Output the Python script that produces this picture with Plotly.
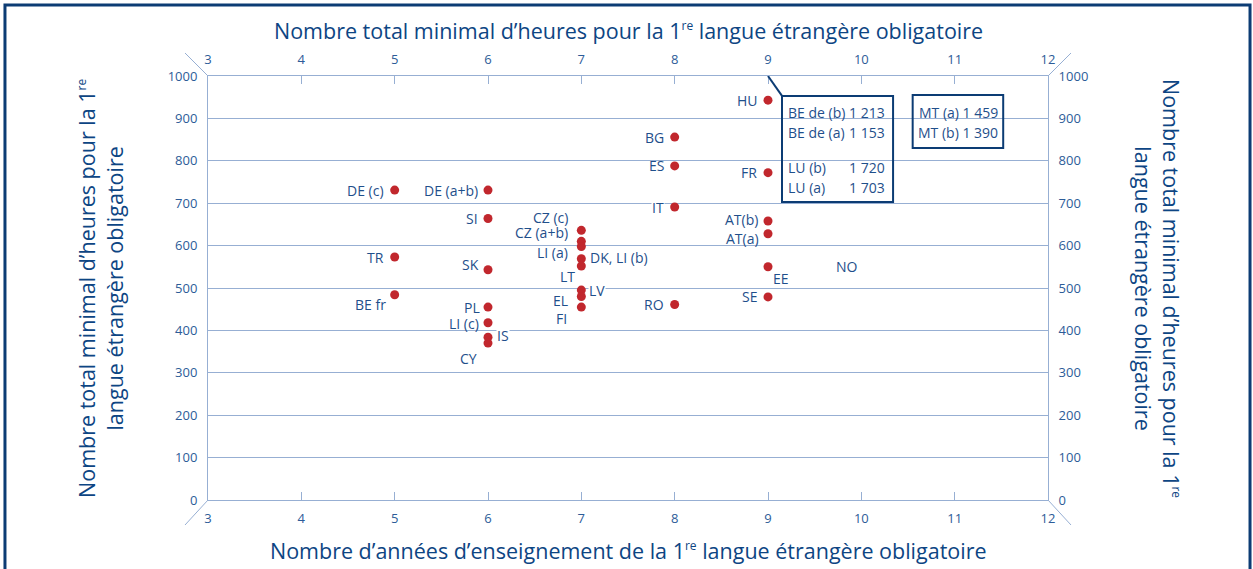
import plotly.graph_objects as go

# --- data ---
COUNTRIES = ["HU", "BG", "ES", "FR", "DE (c)", "DE (a+b)", "IT", "SI", "AT(b)", "CZ (c)",
             "AT(a)", "CZ (a+b)", "LI (a)", "DK, LI (b)", "LT", "TR", "SK", "LV", "EL",
             "BE fr", "FI", "PL", "RO", "SE", "EE", "NO", "LI (c)", "IS", "CY"]
YEARS = [9, 8, 8, 9, 5, 6, 8, 6, 9, 7,
         9, 7, 7, 7, 7, 5, 6, 7, 7,
         5, 7, 6, 8, 9, 9, 10, 6, 6, 6]
HOURS = [943, 856, 788, 772, 731, 731, 691, 664, 658, 636,
         628, 610, 598, 569, 552, 573, 543, 495, 480,
         484, 455, 455, 461, 479, 550, 550, 418, 384, 370]
NO_MARKER = {"NO"}

# off-scale values shown in boxes
BOX1_LABELS = ["BE de (b)", "BE de (a)", "LU (b)", "LU (a)"]
BOX1_VALUES = ["1 213", "1 153", "1 720", "1 703"]
BOX2_LABELS = ["MT (a)", "MT (b)"]
BOX2_VALUES = ["1 459", "1 390"]

X_TICKS = list(range(3, 13))
Y_TICKS = list(range(0, 1001, 100))

SUP = "1<sup><span style='font-size:12px'>re</span></sup>"
TITLE_X = f"Nombre d’années d’enseignement de la {SUP} langue étrangère obligatoire"
TITLE_Y = f"Nombre total minimal d’heures pour la {SUP} langue étrangère obligatoire"
TITLE_Y_SIDE = f"Nombre total minimal d’heures pour la {SUP}<br>langue étrangère obligatoire"

# --- style ---
FONT = "Open Sans"
DARK = "#0d4583"
TICK_COL = "#2d5c98"
LABEL_COL = "#1f4f8b"
GRID = "#97afd3"
RED = "#c1272d"
BORDER = "#0c3c74"

# label placement: (xanchor, xshift, yshift) in px relative to the marker
LABEL_POS = {
    "HU": ("right", -9, 0), "BG": ("right", -10, 0), "ES": ("right", -10, 0),
    "FR": ("right", -10, 0), "DE (c)": ("right", -10, 0), "DE (a+b)": ("right", -9, 0),
    "IT": ("right", -10, 0), "SI": ("right", -9, 0), "AT(b)": ("right", -9, 2),
    "CZ (c)": ("right", -12, 13), "AT(a)": ("right", -8, -5), "CZ (a+b)": ("right", -12, 9),
    "LI (a)": ("right", -12, -6), "DK, LI (b)": ("left", 8, 1), "LT": ("right", -5, -11),
    "TR": ("right", -10, 0), "SK": ("right", -8, 5), "LV": ("left", 7, 0),
    "EL": ("right", -12, -4), "BE fr": ("right", -8, -10), "FI": ("right", -13, -11),
    "PL": ("right", -7, 0), "RO": ("right", -10, 0), "SE": ("right", -10, 0),
    "EE": ("left", 4, -12), "NO": ("center", -14, 0), "LI (c)": ("right", -8, -1),
    "IS": ("left", 8, 2), "CY": ("right", -10, -15),
}
ON_GRID = {"IT", "LV", "IS"}

mx = [x for c, x in zip(COUNTRIES, YEARS) if c not in NO_MARKER]
my = [y for c, y in zip(COUNTRIES, HOURS) if c not in NO_MARKER]

fig = go.Figure()
fig.add_trace(go.Scatter(
    x=mx, y=my, mode="markers",
    marker=dict(color=RED, size=9),
    hoverinfo="skip", showlegend=False,
))
# invisible trace so the top / right axes get drawn
fig.add_trace(go.Scatter(
    x=mx, y=my, xaxis="x2", yaxis="y2", mode="markers",
    marker=dict(opacity=0), hoverinfo="skip", showlegend=False,
))

annotations = []
for c, x, y in zip(COUNTRIES, YEARS, HOURS):
    xa, xs, ys = LABEL_POS[c]
    ann = dict(
        x=x, y=y, xref="x", yref="y", text=c, showarrow=False,
        xanchor=xa, yanchor="middle", xshift=xs, yshift=ys,
        font=dict(family=FONT, size=14, color=LABEL_COL), borderpad=0,
    )
    if c in ON_GRID:
        ann["bgcolor"] = "white"
    annotations.append(ann)

# boxes with off-scale values
row_y = [913, 866, 785, 736]
box_font = dict(family=FONT, size=14, color=LABEL_COL)
for lab, val, yy in zip(BOX1_LABELS, BOX1_VALUES, row_y):
    annotations.append(dict(x=9.19, y=yy, text=lab, showarrow=False, xanchor="left",
                            yanchor="middle", font=box_font))
    annotations.append(dict(x=10.27, y=yy, text=val, showarrow=False, xanchor="right",
                            yanchor="middle", font=box_font))
for lab, val, yy in zip(BOX2_LABELS, BOX2_VALUES, row_y[:2]):
    annotations.append(dict(x=11.04, y=yy, text=f"{lab} {val}", showarrow=False,
                            xanchor="center", yanchor="middle", font=box_font))

# axis titles
tfont = dict(family=FONT, size=21.5, color=DARK)
annotations += [
    dict(x=0.5, y=1.108, xref="paper", yref="paper", text=TITLE_Y, showarrow=False,
         xanchor="center", yanchor="middle", font=tfont),
    dict(x=0.5, y=-0.12, xref="paper", yref="paper", text=TITLE_X, showarrow=False,
         xanchor="center", yanchor="middle", font=tfont),
    dict(x=-0.1286, y=0.5, xref="paper", yref="paper", text=TITLE_Y_SIDE, showarrow=False,
         xanchor="center", yanchor="middle", textangle=-90, font=tfont),
    dict(x=1.131, y=0.5, xref="paper", yref="paper", text=TITLE_Y_SIDE, showarrow=False,
         xanchor="center", yanchor="middle", textangle=90, font=tfont),
]

shapes = [
    # outer frame
    dict(type="rect", xref="paper", yref="paper", x0=-0.2417, x1=1.2405, y0=-0.2, y1=1.1675,
         line=dict(color=BORDER, width=3)),
    # box outlines
    dict(type="rect", xref="x", yref="y", x0=9.15, x1=10.34, y0=703, y1=953,
         line=dict(color=BORDER, width=2)),
    dict(type="rect", xref="x", yref="y", x0=10.55, x1=11.52, y0=830, y1=955,
         line=dict(color=BORDER, width=2)),
    dict(type="line", xref="x", yref="y", x0=9, y0=1000, x1=9.15, y1=953,
         line=dict(color=BORDER, width=2)),
]
# diagonal corner strokes
for ax, ay, dx, dy in [(0, 1, -23, 23), (0, 0, -23, -25), (1, 1, 23, 23), (1, 0, 23, -25)]:
    shapes.append(dict(type="line", xref="paper", yref="paper", xsizemode="pixel",
                       ysizemode="pixel", xanchor=ax, yanchor=ay, x0=0, y0=0, x1=dx, y1=dy,
                       line=dict(color=GRID, width=1)))

xcommon = dict(range=[3, 12], tickvals=X_TICKS, ticks="inside", ticklen=8, tickcolor=GRID,
               tickwidth=1, showline=True, linecolor=GRID, linewidth=1, showgrid=False,
               zeroline=False, tickfont=dict(family=FONT, size=13, color=TICK_COL),
               ticklabelstandoff=6)
ycommon = dict(range=[0, 1000], tickvals=Y_TICKS, ticks="", showline=True, linecolor=GRID,
               linewidth=1, zeroline=False, tickfont=dict(family=FONT, size=13, color=TICK_COL),
               ticklabelstandoff=7)

fig.update_layout(
    width=1253, height=569,
    paper_bgcolor="white", plot_bgcolor="white",
    margin=dict(l=208, r=205, t=76, b=69),
    xaxis=dict(**xcommon, side="bottom", anchor="y"),
    xaxis2=dict(**xcommon, side="top", overlaying="x", anchor="y"),
    yaxis=dict(**ycommon, side="left", showgrid=True, gridcolor=GRID, gridwidth=1),
    yaxis2=dict(**ycommon, side="right", overlaying="y", showgrid=False, anchor="x"),
    annotations=annotations,
    shapes=shapes,
    showlegend=False,
)

fig.write_html("out.html", config={"displayModeBar": False},
               post_script="document.body.style.margin='0';")
